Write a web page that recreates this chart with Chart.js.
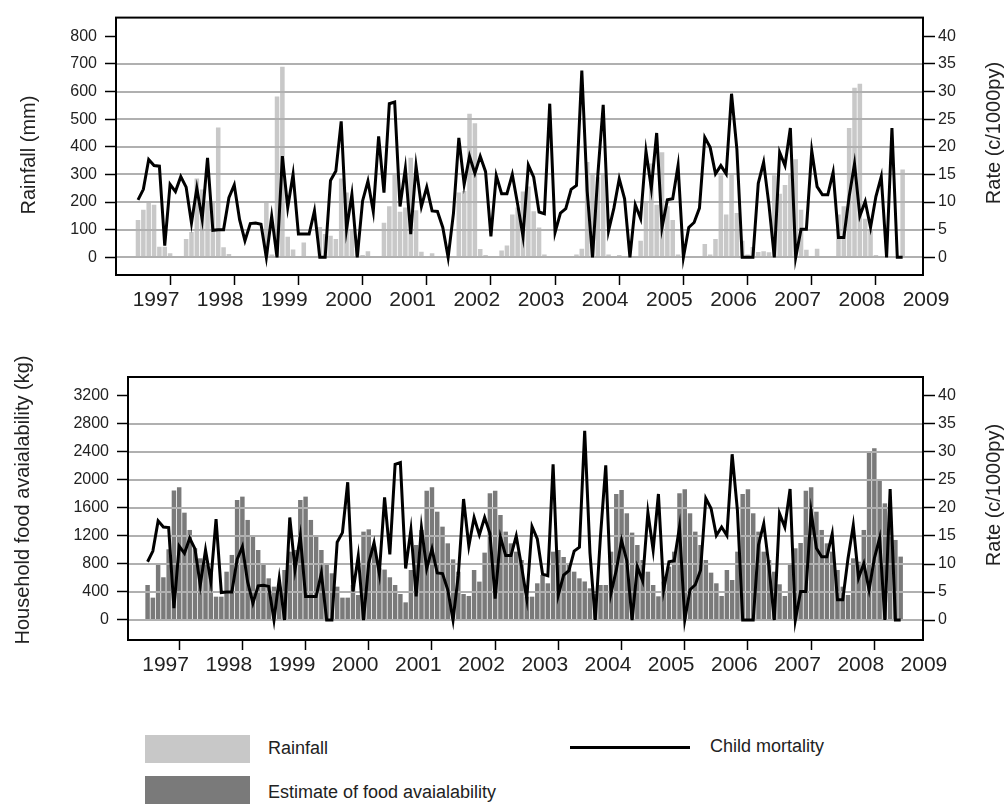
<!DOCTYPE html>
<html>
<head>
<meta charset="utf-8">
<script src="https://cdn.jsdelivr.net/npm/chart.js@4.4.0/dist/chart.umd.min.js"></script>
<style>
  body { margin: 0; background: #fff; width: 1008px; height: 807px; position: relative; overflow: hidden;
         font-family: "Liberation Sans", Arial, sans-serif; color: #222; }
  canvas { position: absolute; left: 0; }
  #rainChart { top: 0; }
  #foodChart { top: 330px; }
  .swatch { position: absolute; left: 145px; width: 105px; height: 28px; }
  .key { position: absolute; font-size: 18px; line-height: 20px; }
  .vtitle { position: absolute; font-size: 20px; white-space: nowrap;
            transform: translate(-50%, -50%) rotate(-90deg); }
</style>
</head>
<body>
<canvas id="rainChart" width="1008" height="320"></canvas>
<canvas id="foodChart" width="1008" height="355"></canvas>

<div class="vtitle" style="left:28px;top:155px">Rainfall (mm)</div>
<div class="vtitle" style="left:993px;top:133px">Rate (c/1000py)</div>
<div class="vtitle" style="left:22px;top:500px">Household food avaialability (kg)</div>
<div class="vtitle" style="left:993px;top:495px">Rate (c/1000py)</div>

<div class="swatch" style="top:735px;background:#c8c8c8"></div>
<div class="key" style="left:268px;top:738px">Rainfall</div>
<div class="swatch" style="top:776px;background:#7a7a7a"></div>
<div class="key" style="left:268px;top:782px">Estimate of food avaialability</div>
<div style="position:absolute;left:570px;top:746px;width:120px;height:3px;background:#000"></div>
<div class="key" style="left:710px;top:736px">Child mortality</div>

<script>
const years = [1997, 1998, 1999, 2000, 2001, 2002, 2003, 2004, 2005, 2006, 2007, 2008, 2009];
const rainTicks = [0, 100, 200, 300, 400, 500, 600, 700, 800];
const foodTicks = [0, 400, 800, 1200, 1600, 2000, 2400, 2800, 3200];
const rateTicks = [0, 5, 10, 15, 20, 25, 30, 35, 40];

// monthly rainfall (mm), Jan 1997 - Dec 2008
const rainfall = [
  135, 172, 200, 190, 38, 38, 15, 5, 3, 66, 92, 285,
  245, 205, 200, 470, 36, 12, 2, 2, 2, 2, 3, 5,
  198, 10, 582, 690, 74, 28, 5, 54, 3, 3, 110, 84,
  78, 66, 285, 235, 100, 50, 8, 22, 3, 3, 125, 185,
  305, 165, 180, 360, 170, 20, 5, 15, 3, 3, 3, 5,
  235, 240, 520, 485, 30, 8, 5, 5, 25, 43, 155, 180,
  238, 256, 167, 108, 10, 5, 5, 5, 5, 5, 10, 31,
  345, 300, 290, 300, 10, 3, 8, 3, 3, 3, 60, 200,
  340, 190, 380, 185, 135, 10, 3, 3, 3, 3, 48, 10,
  66, 297, 155, 300, 160, 60, 10, 37, 19, 22, 18, 297,
  230, 262, 300, 355, 172, 27, 5, 31, 3, 3, 3, 155,
  185, 468, 614, 628, 140, 100, 8, 5, 5, 5, 5, 318
];

// child mortality rate (c/1000py)
const mortality = [
  10.4, 12.3, 17.7, 16.6, 16.5, 2.1, 13.2, 11.9, 14.6, 12.7, 6.2, 12.5,
  6.9, 18, 4.9, 5, 5, 10.8, 13.1, 6.8, 3, 6.1, 6.2, 6,
  0, 7.4, 0, 18.3, 9, 15, 4.2, 4.2, 4.2, 8.4, 0, 0,
  13.9, 15.6, 24.6, 5.1, 11.4, 0, 10.2, 13.8, 8.3, 21.9, 11.7, 27.8,
  28.1, 9.2, 16.1, 4.2, 16.5, 9.2, 12.7, 8.4, 8.3, 5.4, 0, 8,
  21.6, 13.2, 18.3, 15.2, 18.3, 15.5, 3.8, 14.8, 11.5, 11.5, 15, 9.6,
  3.8, 16.7, 14.5, 8.2, 7.9, 27.8, 4.5, 8, 8.8, 12.3, 13, 33.8,
  12, 0, 15, 27.6, 4.8, 8.9, 14.2, 10.6, 0, 9.5, 7, 19.2,
  12.5, 22.5, 5.4, 10.4, 10.6, 16.6, 0, 5.4, 6.3, 8.9, 21.7, 19.9,
  15.1, 16.6, 15.1, 29.6, 19.6, 0, 0, 0, 13.4, 17.2, 9.5, 0,
  19, 16.6, 23.4, 0, 5.1, 5.1, 19.3, 12.8, 11.3, 11.3, 15.4, 3.6,
  3.6, 11, 16.9, 7.5, 10.1, 5.4, 11, 14.6, 0, 23.4, 0, 0
];

// household food availability estimate (kg)
const food = [
  500, 319, 785, 610, 1010, 1848, 1895, 1533, 1286, 1024, 881, 833,
  667, 333, 333, 690, 929, 1714, 1762, 1429, 1190, 1000, 810, 595,
  476, 476, 714, 976, 1000, 1714, 1762, 1429, 1190, 1000, 810, 667,
  476, 319, 319, 500, 357, 1262, 1295, 1050, 738, 720, 610, 500,
  371, 252, 714, 1071, 1285, 1847, 1895, 1547, 1333, 1095, 866, 690,
  371, 343, 714, 548, 962, 1810, 1847, 1500, 1262, 1095, 976, 857,
  333, 333, 524, 643, 524, 976, 1000, 900, 810, 690, 595, 550,
  452, 371, 500, 500, 976, 1800, 1857, 1524, 1248, 1071, 857, 690,
  500, 338, 548, 762, 976, 1810, 1866, 1524, 1262, 1071, 857, 676,
  524, 343, 714, 571, 976, 1800, 1866, 1524, 1262, 976, 857, 690,
  510, 343, 785, 1024, 1100, 1847, 1895, 1547, 1286, 1095, 976, 714,
  476, 357, 881, 833, 1286, 2404, 2452, 2009, 1666, 1404, 1143, 905
];

const months = rainfall.map((v, i) => 1997 + i / 12);
const pts = values => values.map((v, i) => ({ x: months[i], y: v }));

// black box round the plot area
const frame = {
  id: 'frame',
  afterDatasetsDraw(chart) {
    const { ctx, chartArea: a } = chart;
    ctx.save();
    ctx.strokeStyle = '#000';
    ctx.lineWidth = 2;
    ctx.strokeRect(a.left, a.top, a.right - a.left, a.bottom - a.top);
    ctx.restore();
  }
};

// horizontal grid sits on top of the bars but under the mortality line
const gridOverBars = {
  id: 'gridOverBars',
  afterDatasetDraw(chart, args) {
    if (args.meta.type !== 'bar') return;
    const { ctx, chartArea: a, scales: { y } } = chart;
    ctx.save();
    ctx.strokeStyle = '#b0b0b0';
    ctx.lineWidth = 2;
    y.ticks.slice(0, -1).forEach(t => {
      const py = Math.round(y.getPixelForValue(t.value));
      ctx.beginPath();
      ctx.moveTo(a.left, py);
      ctx.lineTo(a.right, py);
      ctx.stroke();
    });
    ctx.restore();
  }
};

const family = '"Liberation Sans", Arial, sans-serif';

function panel(id, o) {
  return new Chart(document.getElementById(id), {
    type: 'bar',
    data: {
      datasets: [
        { type: 'line', data: pts(mortality), yAxisID: 'rate', borderColor: '#000', borderWidth: 3,
          pointRadius: 0, tension: 0, order: 0 },
        { type: 'bar', data: pts(o.bars), yAxisID: 'y', backgroundColor: o.barColor,
          barPercentage: 0.85, categoryPercentage: 1, order: 1 }
      ]
    },
    options: {
      responsive: false,
      animation: false,
      devicePixelRatio: 1,
      layout: { padding: { top: o.top, left: 0, right: 0, bottom: 0 } },
      plugins: { legend: { display: false }, tooltip: { enabled: false } },
      scales: {
        x: {
          type: 'linear', min: o.xMin, max: o.xMax, offset: false,
          afterBuildTicks: s => { s.ticks = years.map(v => ({ value: v })); },
          afterFit: s => { s.height = 45; },
          border: { display: false },
          grid: { drawOnChartArea: false, tickColor: '#000', tickLength: 10, tickWidth: 1.5 },
          ticks: { font: { family, size: 21 }, color: '#222', labelOffset: 18, padding: 3,
                   maxRotation: 0, autoSkip: false, callback: v => String(v) }
        },
        y: {
          position: 'left', min: o.yMin, max: o.yMax,
          afterBuildTicks: s => { s.ticks = o.yTicks.map(v => ({ value: v })); },
          afterFit: s => { s.width = o.left; },
          border: { display: false },
          grid: { drawOnChartArea: false, tickColor: '#000', tickLength: 11, tickWidth: 1.5 },
          ticks: { font: { family, size: 16 }, color: '#222', padding: 8, callback: v => String(v) }
        },
        rate: {
          position: 'right', min: o.rMin, max: o.rMax,
          afterBuildTicks: s => { s.ticks = rateTicks.map(v => ({ value: v })); },
          afterFit: s => { s.width = 85; },
          border: { display: false },
          grid: { drawOnChartArea: false, tickColor: '#000', tickLength: 12, tickWidth: 1.5 },
          ticks: { font: { family, size: 16 }, color: '#222', padding: 3, callback: v => String(v) }
        }
      }
    },
    plugins: [gridOverBars, frame]
  });
}

panel('rainChart', {
  bars: rainfall, barColor: '#c8c8c8', top: 13, left: 116,
  xMin: 1996.657, xMax: 2009.234,
  yMin: -64, yMax: 867.6, yTicks: rainTicks,
  rMin: -3.2, rMax: 43.38
});

panel('foodChart', {
  bars: food, barColor: '#7a7a7a', top: 47, left: 128,
  xMin: 1996.69, xMax: 2009.27,
  yMin: -286, yMax: 3471, yTicks: foodTicks,
  rMin: -3.57, rMax: 43.39
});
</script>
</body>
</html>
